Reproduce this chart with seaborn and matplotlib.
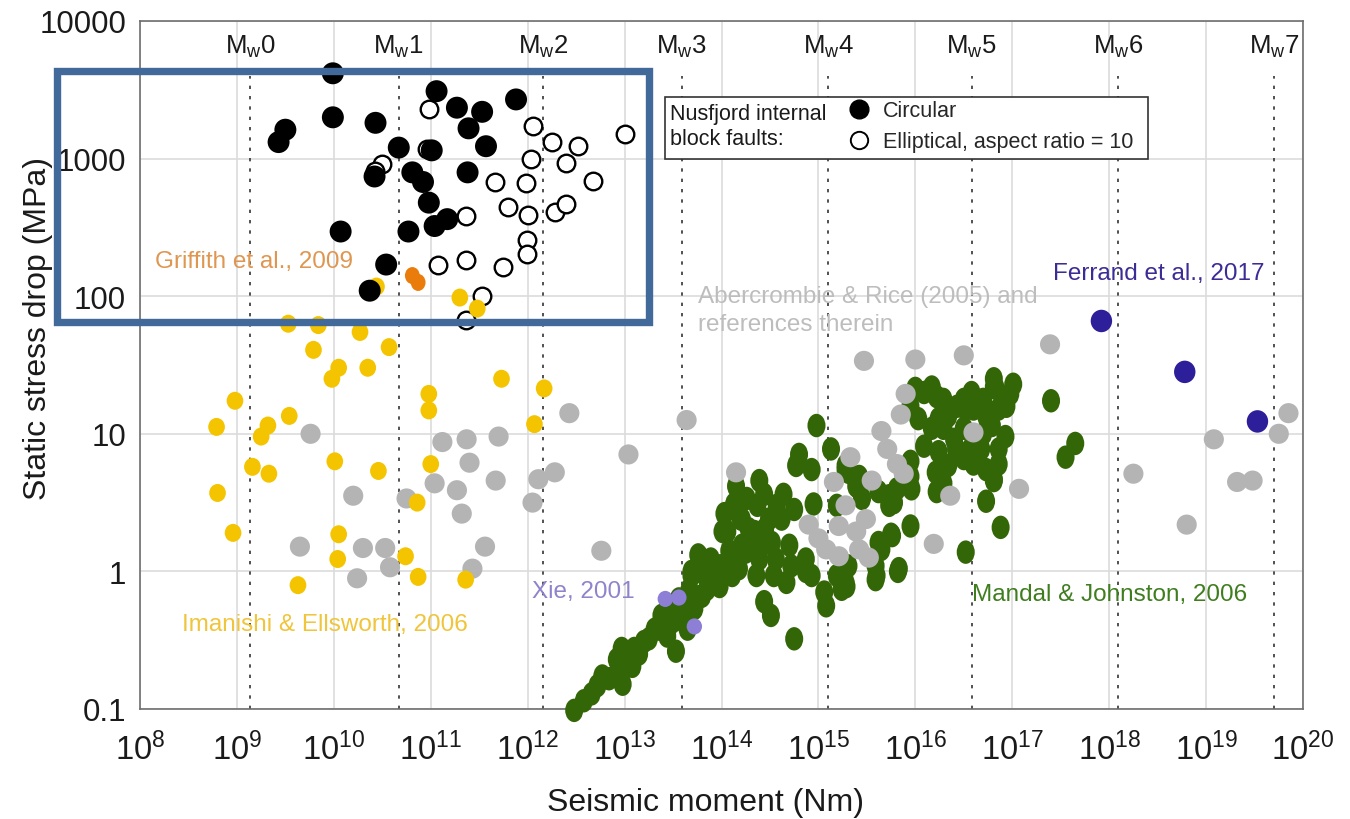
import numpy as np
import pandas as pd
import matplotlib
matplotlib.use("Agg")
import matplotlib.pyplot as plt
import seaborn as sns
from matplotlib.path import Path
from matplotlib.markers import MarkerStyle
from matplotlib.transforms import Affine2D
from matplotlib.patches import Rectangle
from matplotlib.lines import Line2D
from matplotlib.ticker import FixedLocator, LogFormatterMathtext, NullLocator

# -----------------------------------------------------------------------------
# DATA  (log10 seismic moment [Nm], log10 static stress drop [MPa])
# -----------------------------------------------------------------------------
circ_logm = [9.99, 9.99, 9.50, 9.43, 10.43, 11.06, 11.27, 11.53, 11.39, 11.57,
             10.67, 11.01, 11.38, 10.42, 10.81, 10.92, 10.98, 11.04, 11.17,
             10.77, 10.07, 10.54, 10.37, 11.88]
circ_logs = [3.62, 3.30, 3.21, 3.12, 3.26, 3.49, 3.37, 3.34, 3.22, 3.09,
             3.08, 3.06, 2.90, 2.87, 2.90, 2.83, 2.68, 2.51, 2.56,
             2.47, 2.47, 2.23, 2.04, 3.43]

ell_logm = [10.98, 10.96, 10.50, 10.42, 11.36, 11.07, 11.36, 11.66, 11.53, 11.36,
            12.05, 12.25, 12.52, 13.00, 12.03, 12.40, 12.67, 11.98, 11.80, 12.00,
            12.28, 12.40, 11.99, 11.99, 11.75]
ell_logs = [3.36, 3.07, 2.96, 2.91, 2.58, 2.23, 2.26, 2.83, 2.00, 1.83,
            3.24, 3.12, 3.09, 3.18, 3.00, 2.97, 2.84, 2.82, 2.65, 2.59,
            2.61, 2.67, 2.41, 2.31, 2.21]

griffith_logm = [10.81, 10.87]
griffith_logs = [2.15, 2.10]

imanishi_logm = [9.53, 9.84, 10.27, 9.79, 10.57, 10.05, 9.98, 10.35, 11.73, 12.17,
                 8.98, 10.98, 10.98, 9.54, 8.79, 9.32, 9.25, 12.07, 9.16, 9.33,
                 10.01, 10.46, 11.00, 8.80, 10.86, 8.96, 10.05, 10.04, 10.74, 9.63,
                 10.87, 11.36, 10.44, 11.30, 11.48]
imanishi_logs = [1.80, 1.79, 1.74, 1.61, 1.63, 1.48, 1.40, 1.48, 1.40, 1.33,
                 1.24, 1.29, 1.17, 1.13, 1.05, 1.06, 0.98, 1.07, 0.76, 0.71,
                 0.80, 0.73, 0.78, 0.57, 0.50, 0.28, 0.27, 0.09, 0.11, -0.10,
                 -0.04, -0.06, 2.07, 1.99, 1.91]

aber_logm = [9.76, 11.12, 11.37, 11.70, 11.40, 12.43, 13.64, 13.04, 12.28, 12.11,
             11.67, 11.04, 11.27, 10.20, 10.75, 12.05, 11.32, 9.65, 10.30, 10.53,
             11.56, 10.58, 11.43, 10.24, 12.76,
             14.15, 15.16, 15.33, 15.28, 14.90, 15.00, 15.08, 15.21, 15.21, 15.39,
             15.42, 15.49, 15.52, 15.47, 16.00, 16.50, 15.90, 15.85, 15.65, 15.71,
             15.81, 15.88, 15.55, 16.36, 16.19, 16.60, 17.39, 17.07,
             18.25, 19.08, 19.32, 19.48, 18.80, 19.75, 19.85]
aber_logs = [1.00, 0.94, 0.96, 0.98, 0.79, 1.15, 1.10, 0.85, 0.72, 0.67,
             0.66, 0.64, 0.59, 0.55, 0.53, 0.50, 0.42, 0.18, 0.17, 0.17,
             0.18, 0.03, 0.02, -0.05, 0.15,
             0.72, 0.65, 0.83, 0.48, 0.34, 0.24, 0.16, 0.11, 0.33, 0.29,
             0.16, 0.38, 0.10, 1.53, 1.54, 1.57, 1.29, 1.14, 1.02, 0.89,
             0.78, 0.71, 0.66, 0.55, 0.20, 1.01, 1.65, 0.60,
             0.71, 0.96, 0.65, 0.66, 0.34, 1.00, 1.15]

mandal_logm = [12.48, 12.58, 12.72, 12.77, 12.91, 12.92, 12.97, 13.08, 13.10, 13.20,
               13.31, 13.38, 13.46, 13.44, 13.53, 13.49, 13.58, 13.65, 13.64, 13.69,
               13.77, 13.79, 13.85, 13.92, 14.00, 14.01, 12.98,
               13.87, 13.98, 14.11, 14.06, 14.20, 14.15, 14.26, 14.39, 14.37, 14.34,
               14.49, 14.57, 14.62, 14.70, 14.52, 14.39, 14.36, 14.54, 14.67, 14.44,
               14.51, 14.75, 14.80, 14.77, 14.93, 14.98, 15.13, 14.87, 14.93, 15.06,
               15.08, 15.19, 15.29, 15.28, 15.39, 15.45, 15.19, 14.21, 14.08, 13.80,
               14.21, 14.28, 14.45, 14.25, 14.11, 13.98, 14.56, 14.72, 14.87,
               16.09, 16.22, 16.17, 15.95, 16.34, 16.43, 16.17, 16.09, 16.24, 16.42,
               16.57, 16.34, 16.21, 16.22, 16.58, 16.60, 16.73, 16.83, 16.79, 16.68,
               16.81, 16.73, 16.88, 16.52, 15.95, 15.76, 15.62, 15.83, 15.60, 15.28,
               15.31, 15.42, 15.73, 15.95, 15.90, 15.78,
               16.81, 16.98, 16.94, 16.73, 16.52, 16.93, 16.65, 16.50, 16.73, 16.81,
               17.40, 17.65, 17.55, 15.82, 15.59, 13.76, 13.69,
               16.29, 16.50, 16.03, 16.86, 16.70, 16.24,
               15.28, 15.42, 15.62, 15.73, 15.81, 15.95, 15.96, 15.59, 15.75, 15.65,
               15.31, 15.24,
               14.03, 14.13, 14.44, 14.64, 14.75, 14.28, 14.44, 14.18, 13.89, 13.82,
               13.67, 13.72, 13.56, 13.36, 13.25, 13.15, 13.03, 12.84, 12.66, 14.95,
               16.29, 16.50, 16.70, 16.86, 16.40, 16.60, 16.86, 16.29, 16.81, 17.01,
               16.00]
mandal_logs = [-1.01, -0.94, -0.83, -0.76, -0.76, -0.64, -0.56, -0.69, -0.56, -0.51,
               -0.42, -0.32, -0.27, -0.47, -0.58, -0.37, -0.35, -0.42, -0.25, -0.03,
               0.11, -0.18, -0.13, -0.03, 0.04, 0.29, -0.82,
               -0.06, -0.11, -0.03, 0.29, 0.38, 0.62, 0.53, 0.66, 0.48, 0.29,
               0.38, 0.48, 0.38, 0.19, 0.21, 0.09, -0.03, -0.03, -0.08, -0.22,
               -0.32, -0.49, 0.85, 0.77, 0.74, 1.06, 0.89, 0.09, -0.03, -0.15,
               -0.25, -0.03, -0.11, 0.74, 0.62, 0.53, 0.48, 0.19, 0.15, -0.18,
               0.38, 0.31, 0.31, 0.14, 0.09, 0.04, 0.09, 0.04, 0.00,
               1.30, 1.27, 1.34, 1.20, 1.13, 1.20, 1.04, 0.91, 0.87, 0.89,
               0.89, 0.77, 0.72, 0.58, 1.30, 1.18, 1.13, 1.33, 1.06, 0.89,
               0.67, 0.51, 0.32, 0.14, 0.33, 0.26, 0.21, 0.02, -0.03, -0.08,
               0.72, 0.60, 0.55, 0.80, 0.67, 0.50,
               1.34, 1.29, 1.20, 1.16, 1.18, 0.98, 0.89, 0.82, 0.74, 0.66,
               1.24, 0.93, 0.83, 0.00, -0.06, 0.12, 0.00,
               1.04, 1.04, 1.11, 0.89, 1.00, 1.11,
               0.77, 0.69, 0.58, 0.48, 0.60, 0.69, 0.60, 0.04, 0.27, 0.16,
               0.04, -0.13,
               0.42, 0.49, 0.56, 0.56, 0.45, 0.20, 0.20, 0.02, 0.09, -0.02,
               -0.13, -0.27, -0.20, -0.42, -0.49, -0.60, -0.67, -0.78, -0.89, 0.49,
               1.25, 1.25, 1.25, 1.18, 0.96, 0.78, 0.78, 0.64, 1.40, 1.36,
               1.33]

xie_logm = [13.42, 13.56, 13.72]
xie_logs = [-0.20, -0.19, -0.40]

ferrand_logm = [17.92, 18.78, 19.53]
ferrand_logs = [1.82, 1.45, 1.09]

# moment magnitude reference lines (log10 M0 of Mw 0..7)
mw_values = [0, 1, 2, 3, 4, 5, 6, 7]
mw_logm = [9.14, 10.67, 12.16, 13.59, 15.10, 16.58, 18.09, 19.70]

xtick_exp = list(range(8, 21))
ytick_vals = [0.1, 1, 10, 100, 1000, 10000]
ytick_labels = ["0.1", "1", "10", "100", "1000", "10000"]

# -----------------------------------------------------------------------------
# BUILD ONE LONG TABLE
# -----------------------------------------------------------------------------
groups = [
    ("mandal", mandal_logm, mandal_logs),
    ("aber", aber_logm, aber_logs),
    ("xie", xie_logm, xie_logs),
    ("ferrand", ferrand_logm, ferrand_logs),
    ("elliptical", ell_logm, ell_logs),
    ("imanishi", imanishi_logm, imanishi_logs),
    ("griffith", griffith_logm, griffith_logs),
    ("circular", circ_logm, circ_logs),
]
df = pd.concat([
    pd.DataFrame({"source": name,
                  "moment": 10.0 ** np.array(lm),
                  "stress": 10.0 ** np.array(ls)})
    for name, lm, ls in groups
], ignore_index=True)


def ellipse(ratio):
    return MarkerStyle(Path.unit_circle().transformed(Affine2D().scale(1.0, ratio)))


styles = {
    "mandal":     dict(color="#336607", s=285, marker=ellipse(1.3), edgecolor="none", lw=0, z=3),
    "aber":       dict(color="#b4b4b4", s=210, marker="o", edgecolor="none", lw=0, z=4),
    "xie":        dict(color="#8e7fd6", s=135, marker=ellipse(1.05), edgecolor="none", lw=0, z=5),
    "ferrand":    dict(color="#2d1e99", s=262, marker=ellipse(1.05), edgecolor="none", lw=0, z=5),
    "elliptical": dict(color="white", s=160, marker="o", edgecolor="black", lw=1.7, z=6),
    "imanishi":   dict(color="#f5c400", s=168, marker=ellipse(1.08), edgecolor="none", lw=0, z=7),
    "griffith":   dict(color="#ea7c0c", s=150, marker=ellipse(1.15), edgecolor="none", lw=0, z=8),
    "circular":   dict(color="black", s=250, marker="o", edgecolor="none", lw=0, z=9),
}

# -----------------------------------------------------------------------------
# PLOT
# -----------------------------------------------------------------------------
sns.set_theme(style="white")
plt.rcParams["font.family"] = ["Liberation Sans", "DejaVu Sans"]
plt.rcParams["mathtext.default"] = "regular"

fig = plt.figure(figsize=(13.5, 8.2), dpi=100)
ax = fig.add_axes([140 / 1350, 1 - 710 / 820, 1163 / 1350, 688 / 820])
ax.set_xscale("log")
ax.set_yscale("log")

for name, _, _ in groups:
    st = styles[name]
    sns.scatterplot(data=df[df["source"] == name], x="moment", y="stress",
                    color=st["color"], s=st["s"], marker=st["marker"],
                    edgecolor=st["edgecolor"], linewidth=st["lw"],
                    zorder=st["z"], legend=False, ax=ax,
                    clip_on=(name != "mandal"))

ax.set_xlim(1e8, 1e20)
ax.set_ylim(0.1, 1e4)

# ticks
ax.xaxis.set_major_locator(FixedLocator([10.0 ** e for e in xtick_exp]))
ax.xaxis.set_major_formatter(LogFormatterMathtext())
ax.xaxis.set_minor_locator(NullLocator())
ax.set_yticks(ytick_vals)
ax.set_yticklabels(ytick_labels)
ax.yaxis.set_minor_locator(NullLocator())
ax.tick_params(axis="both", length=0, labelsize=22.5, colors="#1a1a1a")
ax.tick_params(axis="x", labelsize=23.5, pad=16)
ax.tick_params(axis="y", pad=10)

ax.grid(True, which="major", color="#dcdcdc", linewidth=1.2)
ax.set_axisbelow(True)
for sp in ax.spines.values():
    sp.set_color("#6e6e6e")
    sp.set_linewidth(1.2)

ax.set_xlabel("Seismic moment (Nm)", fontsize=23, color="#1a1a1a")
ax.set_ylabel("Static stress drop (MPa)", fontsize=23, color="#1a1a1a")
ax.xaxis.set_label_coords(0.486, -0.113)
ax.yaxis.set_label_coords(-0.075, 0.555)

# Mw reference lines and labels
ax.vlines([10.0 ** v for v in mw_logm], 0.1, 10 ** 3.60, colors="#333333",
          linestyles=(0, (2, 4.2)), linewidth=1.2, zorder=2)
for mw, lm in zip(mw_values, mw_logm):
    ax.text(10.0 ** lm, 10 ** 3.818, r"$\mathregular{M_{w}%d}$" % mw,
            ha="center", va="center", fontsize=18.5, color="#1a1a1a", zorder=10)

# source annotations
ann = dict(fontsize=17.5, ha="left", va="center", zorder=10)
ax.text(10 ** 8.155, 10 ** 2.256, "Griffith et al., 2009", color="#df9650", **ann)
ax.text(10 ** 8.433, 10 ** -0.382, "Imanishi & Ellsworth, 2006", color="#f0c53c", **ann)
ax.text(10 ** 12.04, 10 ** -0.142, "Xie, 2001", color="#8f84cc", **ann)
ax.text(10 ** 16.58, 10 ** -0.164, "Mandal & Johnston, 2006", color="#3f7d1f", **ann)
ax.text(10 ** 13.758, 10 ** 1.90, "Abercrombie & Rice (2005) and\nreferences therein",
        color="#bdbdbd", linespacing=1.3, **ann)
ax.text(10 ** 17.425, 10 ** 2.169, "Ferrand et al., 2017", color="#3b2c96", **ann)

# legend box for the Nusfjord points
ax.add_patch(Rectangle((0.4514, 0.7994), 0.4153, 0.0901, transform=ax.transAxes,
                       facecolor="white", edgecolor="#333333", linewidth=1.2, zorder=11))
ax.text(0.4557, 0.848, "Nusfjord internal\nblock faults:", transform=ax.transAxes,
        ha="left", va="center", fontsize=15.5, linespacing=1.25, color="#1a1a1a", zorder=12)
handles = [
    Line2D([], [], ls="", marker="o", markersize=13.5, markerfacecolor="black",
           markeredgecolor="black"),
    Line2D([], [], ls="", marker="o", markersize=12.5, markerfacecolor="white",
           markeredgecolor="black", markeredgewidth=1.4),
]
leg = ax.legend(handles, ["Circular", "Elliptical, aspect ratio = 10"],
                loc="upper left", bbox_to_anchor=(0.6088, 0.8845), frameon=False,
                borderpad=0, borderaxespad=0, handlelength=1.0, handletextpad=0.63,
                labelspacing=0.45, fontsize=15.5)
leg.set_zorder(13)

# highlight rectangle drawn on top of the figure
fig.add_artist(Rectangle((57 / 1350, 1 - 323 / 820), (649 - 57) / 1350, (323 - 71.5) / 820,
                         transform=fig.transFigure, fill=False, edgecolor="#41699a",
                         linewidth=5.3, zorder=20))

fig.savefig("out.png", dpi=100, facecolor="white")
